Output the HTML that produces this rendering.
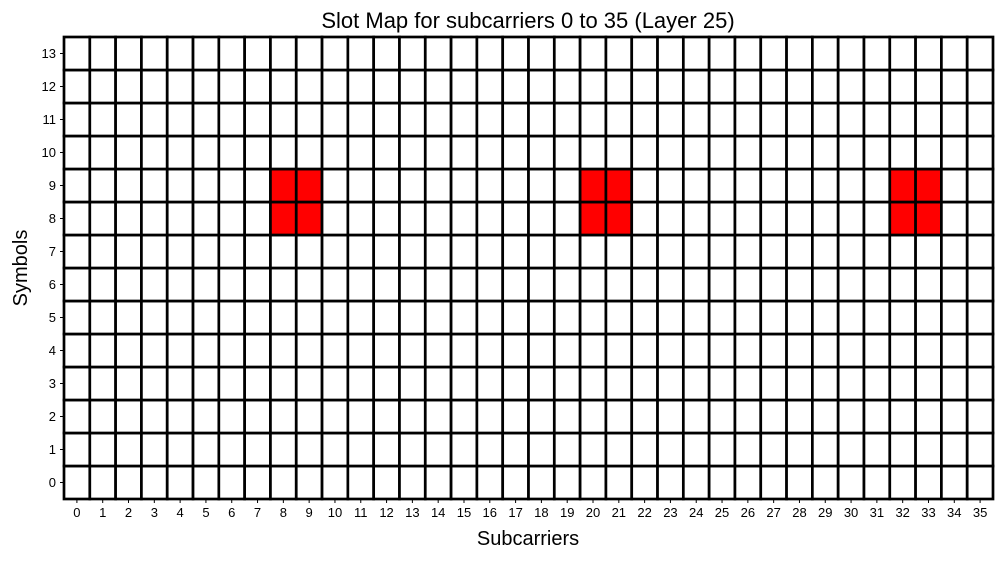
<!DOCTYPE html>
<html><head><meta charset="utf-8"><style>
body{margin:0;background:#fff;}
svg text{font-family:"Liberation Sans","DejaVu Sans",sans-serif;}
</style></head><body>
<svg id="chart" width="1003" height="558" xmlns="http://www.w3.org/2000/svg">
<rect width="1003" height="558" fill="#fff"/>
<text x="528" y="28" text-anchor="middle" font-size="22">Slot Map for subcarriers 0 to 35 (Layer 25)</text>
<text x="528" y="545" text-anchor="middle" font-size="20">Subcarriers</text>
<text x="27" y="268" text-anchor="middle" font-size="20" transform="rotate(-90 27 268)">Symbols</text>
<g id="cells"></g>
<g id="ticks"></g>
</svg>
<script>
const subcarriers = Array.from({length:36},(_,i)=>i);
const symbols = Array.from({length:14},(_,i)=>i);
const activeSubcarriers = [8,9,20,21,32,33];
const activeSymbols = [8,9];
const X0=64,X1=993,Y0=37,Y1=499;
const cw=(X1-X0)/subcarriers.length, ch=(Y1-Y0)/symbols.length;
const xs=c=>X0+c*cw, ys=s=>Y1-(s+1)*ch;
const NS="http://www.w3.org/2000/svg";
const cells=document.getElementById('cells'), ticks=document.getElementById('ticks');
symbols.forEach(s=>subcarriers.forEach(c=>{
  const r=document.createElementNS(NS,'rect');
  r.setAttribute('x',xs(c));r.setAttribute('y',ys(s));r.setAttribute('width',cw);r.setAttribute('height',ch);
  const on=activeSubcarriers.includes(c)&&activeSymbols.includes(s);
  r.setAttribute('fill',on?'#ff0000':'#fff');r.setAttribute('stroke','#000');r.setAttribute('stroke-width','2.7');
  
  
  cells.appendChild(r);
}));
subcarriers.forEach(c=>{
  const x=xs(c)+cw/2;
  const l=document.createElementNS(NS,'line');
  l.setAttribute('x1',x);l.setAttribute('x2',x);l.setAttribute('y1',Y1);l.setAttribute('y2',Y1+4);l.setAttribute('stroke','#000');
  
  
  ticks.appendChild(l);
  const t=document.createElementNS(NS,'text');
  t.setAttribute('x',x);t.setAttribute('y',Y1+18);t.setAttribute('text-anchor','middle');t.setAttribute('font-size','13');t.textContent=c;
  
  
  ticks.appendChild(t);
});
symbols.forEach(s=>{
  const y=ys(s)+ch/2;
  const l=document.createElementNS(NS,'line');
  l.setAttribute('x1',X0-4);l.setAttribute('x2',X0);l.setAttribute('y1',y);l.setAttribute('y2',y);l.setAttribute('stroke','#000');
  
  
  ticks.appendChild(l);
  const t=document.createElementNS(NS,'text');
  t.setAttribute('x',X0-8);t.setAttribute('y',y+4.5);t.setAttribute('text-anchor','end');t.setAttribute('font-size','13');t.textContent=s;
  
  
  ticks.appendChild(t);
});
</script>
</body></html>
